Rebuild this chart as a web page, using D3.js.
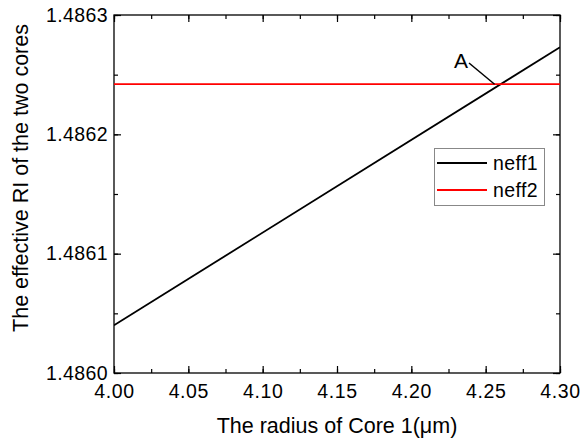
<!DOCTYPE html>
<html><head><meta charset="utf-8">
<script src="https://cdn.jsdelivr.net/npm/d3@7"></script>
<style>body{margin:0;background:#fff}svg{display:block}text{font-family:Arial,"Liberation Sans",sans-serif}</style>
</head><body><svg id="c" width="581" height="443"></svg>
<script>
const radius = [4.00, 4.30];
const neff1 = [1.48604, 1.486273];
const neff2 = [1.486242, 1.486242];
const xTicks = [4.00, 4.05, 4.10, 4.15, 4.20, 4.25, 4.30];
const yTicks = [1.4860, 1.4861, 1.4862, 1.4863];
const seriesNames = ["neff1", "neff2"];
const seriesColors = ["#000000", "#ff0000"];
const pointA = [4.256, 1.486242];

const svg = d3.select("#c");
const L = 114, R = 560, T = 15, B = 373;
const x = d3.scaleLinear().domain([4.0, 4.3]).range([L, R]);
const y = d3.scaleLinear().domain([1.4860, 1.4863]).range([B, T]);

const xMinor = d3.range(0, 13).map(i => 4.0 + i * 0.025);
const yMinor = d3.range(0, 7).map(i => 1.4860 + i * 0.00005);

function tickAxis(g) { g.select(".domain").remove(); g.selectAll("line").attr("stroke", "#000").attr("stroke-width", 1.2); }

svg.append("g").attr("transform", `translate(0,${B})`)
  .call(d3.axisBottom(x).tickValues(xMinor).tickSize(-4).tickFormat(""))
  .call(tickAxis);
svg.append("g").attr("transform", `translate(0,${B})`)
  .call(d3.axisBottom(x).tickValues(xTicks).tickSize(-7).tickPadding(11).tickFormat(d3.format(".2f")))
  .call(tickAxis)
  .call(g => g.selectAll("text").attr("font-size", 19.5).attr("letter-spacing", 0.6).attr("fill", "#000").attr("dy", "0.71em"));
svg.append("g").attr("transform", `translate(0,${T})`)
  .call(d3.axisTop(x).tickValues(xMinor).tickSize(-4).tickFormat("")).call(tickAxis);
svg.append("g").attr("transform", `translate(0,${T})`)
  .call(d3.axisTop(x).tickValues(xTicks).tickSize(-7).tickFormat("")).call(tickAxis);
svg.append("g").attr("transform", `translate(${L},0)`)
  .call(d3.axisLeft(y).tickValues(yMinor).tickSize(-4).tickFormat("")).call(tickAxis);
svg.append("g").attr("transform", `translate(${L},0)`)
  .call(d3.axisLeft(y).tickValues(yTicks).tickSize(-7).tickPadding(6).tickFormat(d3.format(".4f")))
  .call(tickAxis)
  .call(g => g.selectAll("text").attr("font-size", 19.5).attr("letter-spacing", 0.4).attr("fill", "#000"));
svg.append("g").attr("transform", `translate(${R},0)`)
  .call(d3.axisRight(y).tickValues(yMinor).tickSize(-4).tickFormat("")).call(tickAxis);
svg.append("g").attr("transform", `translate(${R},0)`)
  .call(d3.axisRight(y).tickValues(yTicks).tickSize(-7).tickFormat("")).call(tickAxis);

svg.append("rect").attr("x", L).attr("y", T).attr("width", R - L).attr("height", B - T)
  .attr("fill", "none").attr("stroke", "#000").attr("stroke-width", 1.3);

const line = d3.line().x((d, i) => x(radius[i])).y(d => y(d));
svg.append("clipPath").attr("id", "cp").append("rect").attr("x", L).attr("y", T).attr("width", R - L).attr("height", B - T);
[neff1, neff2].forEach((s, i) => {
  svg.append("path").attr("d", line(s)).attr("fill", "none").attr("stroke", seriesColors[i]).attr("stroke-width", 1.8).attr("clip-path", "url(#cp)");
});

svg.append("line").attr("x1", 469).attr("y1", 63).attr("x2", x(pointA[0])).attr("y2", y(pointA[1]))
  .attr("stroke", "#000").attr("stroke-width", 1.5);
svg.append("text").attr("x", 454).attr("y", 68).attr("font-size", 21).text("A");

const lg = svg.append("g");
lg.append("rect").attr("x", 434.5).attr("y", 148.5).attr("width", 110).attr("height", 57)
  .attr("fill", "#fff").attr("stroke", "#888").attr("stroke-width", 1);
seriesNames.forEach((n, i) => {
  const yy = 163 + i * 27;
  lg.append("line").attr("x1", 437).attr("x2", 487).attr("y1", yy).attr("y2", yy)
    .attr("stroke", seriesColors[i]).attr("stroke-width", 1.8);
  lg.append("text").attr("x", 493).attr("y", yy + 7).attr("font-size", 19.5).attr("letter-spacing", 0.4).text(n);
});

svg.append("text").attr("x", (L + R) / 2).attr("y", 433).attr("text-anchor", "middle")
  .attr("font-size", 21.5).text("The radius of Core 1(μm)");
svg.append("text").attr("transform", `translate(28,${178}) rotate(-90)`).attr("text-anchor", "middle")
  .attr("font-size", 21.5).text("The effective RI of the two cores");
</script></body></html>
